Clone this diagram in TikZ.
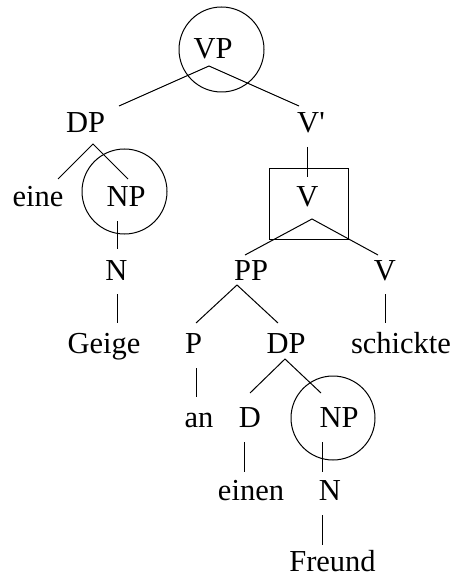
\documentclass[tikz,border=0pt]{standalone}
\usepackage{fontspec}
\setmainfont{Liberation Serif}
\begin{document}
\begin{tikzpicture}[x=1pt,y=-1pt,
  lbl/.style={anchor=base,inner sep=0pt,font=\fontsize{30.5}{36}\selectfont},
  edge/.style={line width=1pt},
  ring/.style={line width=1pt}]
\useasboundingbox (0,0) rectangle (454,577);
% labels
\node[lbl] (VP) at (213,59) {VP};
\node[lbl] (DP1) at (85.5,133) {DP};
\node[lbl] (Vbar) at (311,133) {V\textquotesingle};
\node[lbl] (eine) at (38,207) {eine};
\node[lbl] (NP1) at (126,207) {NP};
\node[lbl] (Vbox) at (307.5,207) {V};
\node[lbl] (N1) at (116.5,280) {N};
\node[lbl] (PP) at (251,280) {PP};
\node[lbl] (V2) at (385,280) {V};
\node[lbl] (Geige) at (104,353) {Geige};
\node[lbl] (P) at (193.5,353) {P};
\node[lbl] (DP2) at (286,353) {DP};
\node[lbl] (schickte) at (401,353) {schickte};
\node[lbl] (an) at (199,427) {an};
\node[lbl] (D) at (250,427) {D};
\node[lbl] (NP2) at (339,427) {NP};
\node[lbl] (einen) at (251,500) {einen};
\node[lbl] (N2) at (330,500) {N};
\node[lbl] (Freund) at (332.5,571) {Freund};
% circles and box
\draw[ring] (221.5,49.5) circle[radius=42.5];
\draw[ring] (124.5,191.5) circle[radius=42.5];
\draw[ring] (333,418) circle[radius=42];
\draw[ring] (269.5,168.5) rectangle (348,239);
% edge end points
\coordinate (vpA) at (209,66);
\coordinate (dp1T) at (119,106);
\coordinate (vbT) at (299,106);
\coordinate (dp1A) at (93,144);
\coordinate (eineT) at (58,179);
\coordinate (np1T) at (128,179);
\coordinate (np1B) at (117,221);
\coordinate (n1T) at (117,249);
\coordinate (n1B) at (117,294);
\coordinate (geigeT) at (117,323);
\coordinate (vbB) at (307,147);
\coordinate (vboxT) at (307,177);
\coordinate (vboxA) at (312,219);
\coordinate (ppT) at (245,255);
\coordinate (v2T) at (378,255);
\coordinate (ppA) at (237,285);
\coordinate (pT) at (196,323);
\coordinate (dp2T) at (278,323);
\coordinate (v2B) at (385,294);
\coordinate (schT) at (385,323);
\coordinate (pB) at (196,368);
\coordinate (anT) at (196,397);
\coordinate (dp2A) at (285,359);
\coordinate (dT) at (250,393);
\coordinate (np2T) at (321,393);
\coordinate (dB) at (244,442);
\coordinate (einenT) at (244,472);
\coordinate (np2B) at (322,442);
\coordinate (n2T) at (322,472);
\coordinate (n2B) at (322,515);
\coordinate (freundT) at (322,545);
% edges
\draw[edge] (dp1T) -- (vpA) -- (vbT);
\draw[edge] (eineT) -- (dp1A) -- (np1T);
\draw[edge] (np1B) -- (n1T);
\draw[edge] (n1B) -- (geigeT);
\draw[edge] (vbB) -- (vboxT);
\draw[edge] (ppT) -- (vboxA) -- (v2T);
\draw[edge] (pT) -- (ppA) -- (dp2T);
\draw[edge] (v2B) -- (schT);
\draw[edge] (pB) -- (anT);
\draw[edge] (dT) -- (dp2A) -- (np2T);
\draw[edge] (dB) -- (einenT);
\draw[edge] (np2B) -- (n2T);
\draw[edge] (n2B) -- (freundT);
\end{tikzpicture}
\end{document}
